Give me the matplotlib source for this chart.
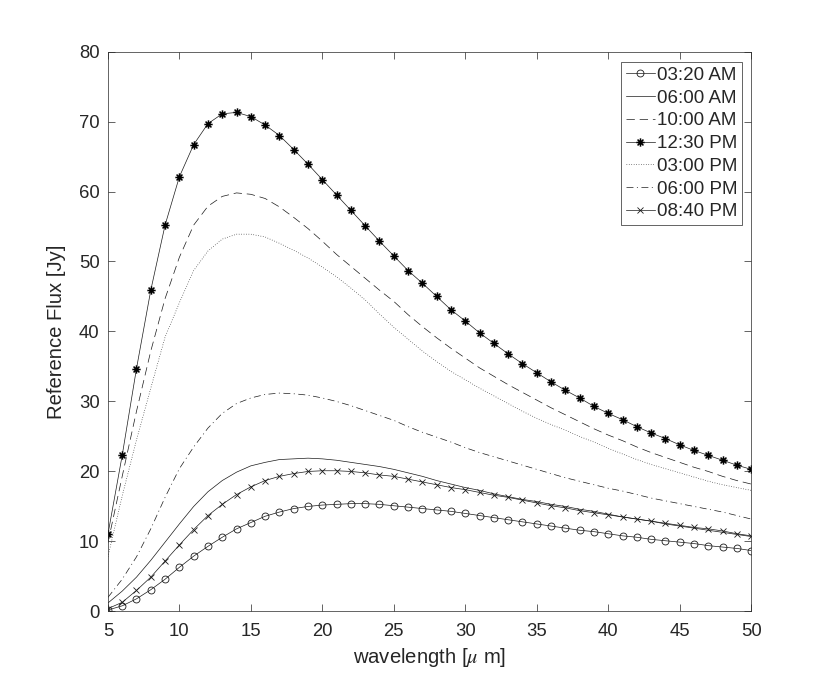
import numpy as np
import matplotlib
matplotlib.use("Agg")
import matplotlib.pyplot as plt
from matplotlib.path import Path

plt.rcParams['font.family'] = ['Liberation Sans', 'DejaVu Sans']
plt.rcParams['mathtext.fontset'] = 'stix'

wavelength = list(range(5, 51))

flux_0320am = [0.2, 0.8, 1.8, 3.1, 4.6, 6.3, 7.9, 9.3, 10.6, 11.8, 12.7, 13.6, 14.2, 14.7, 15.0,
               15.2, 15.3, 15.4, 15.4, 15.3, 15.1, 14.9, 14.7, 14.5, 14.3, 14.0, 13.7, 13.4, 13.1,
               12.8, 12.5, 12.2, 11.9, 11.6, 11.4, 11.1, 10.8, 10.6, 10.3, 10.1, 9.9, 9.7, 9.4,
               9.2, 9.0, 8.7]
flux_0600am = [1.2, 2.9, 4.9, 7.3, 9.9, 12.5, 15.0, 17.1, 18.7, 19.9, 20.8, 21.3, 21.7, 21.8, 21.9,
               21.8, 21.6, 21.3, 21.0, 20.7, 20.3, 19.8, 19.3, 18.7, 18.2, 17.7, 17.3, 16.8, 16.4,
               16.0, 15.7, 15.3, 15.0, 14.6, 14.3, 13.9, 13.5, 13.2, 12.9, 12.5, 12.2, 11.9, 11.6,
               11.3, 11.0, 10.7]
flux_1000am = [9.8, 19.3, 28.6, 37.2, 44.7, 50.6, 55.2, 57.9, 59.3, 59.8, 59.6, 59.0, 57.8, 56.3,
               54.7, 52.9, 51.0, 49.3, 47.6, 45.9, 44.3, 42.4, 40.7, 39.1, 37.6, 36.2, 34.8, 33.6,
               32.4, 31.3, 30.2, 29.1, 28.1, 27.1, 26.1, 25.2, 24.4, 23.5, 22.7, 22.0, 21.3, 20.6,
               20.0, 19.3, 18.7, 18.2]
flux_1230pm = [11.0, 22.3, 34.7, 45.9, 55.2, 62.1, 66.7, 69.7, 71.1, 71.3, 70.7, 69.5, 68.0, 66.0,
               63.9, 61.7, 59.5, 57.3, 55.1, 52.9, 50.8, 48.7, 46.9, 45.0, 43.1, 41.5, 39.8, 38.3,
               36.8, 35.4, 34.1, 32.8, 31.6, 30.5, 29.3, 28.3, 27.4, 26.4, 25.5, 24.7, 23.8, 23.0,
               22.3, 21.6, 20.9, 20.3]
flux_0300pm = [7.8, 16.5, 24.5, 31.9, 39.2, 44.1, 48.7, 51.5, 53.2, 53.9, 53.9, 53.5, 52.6, 51.6,
               50.5, 49.2, 47.8, 46.2, 44.5, 42.5, 40.6, 38.9, 37.2, 35.7, 34.3, 33.1, 31.9, 30.8,
               29.7, 28.6, 27.6, 26.7, 25.9, 25.0, 24.2, 23.3, 22.5, 21.7, 21.0, 20.4, 19.8, 19.2,
               18.6, 18.1, 17.7, 17.3]
flux_0600pm = [2.0, 4.6, 7.8, 11.8, 16.3, 20.4, 23.5, 26.2, 28.3, 29.7, 30.5, 31.0, 31.2, 31.1,
               30.9, 30.5, 30.0, 29.4, 28.7, 28.0, 27.3, 26.4, 25.6, 24.9, 24.2, 23.4, 22.7, 22.1,
               21.5, 20.9, 20.3, 19.7, 19.1, 18.6, 18.1, 17.6, 17.2, 16.7, 16.2, 15.8, 15.4, 15.0,
               14.6, 14.2, 13.7, 13.2]
flux_0840pm = [0.4, 1.3, 3.0, 4.9, 7.2, 9.5, 11.7, 13.7, 15.3, 16.7, 17.8, 18.7, 19.3, 19.7, 20.0,
               20.1, 20.1, 20.0, 19.8, 19.5, 19.3, 18.9, 18.5, 18.1, 17.7, 17.4, 17.0, 16.6, 16.3,
               15.9, 15.5, 15.1, 14.8, 14.4, 14.1, 13.8, 13.5, 13.2, 12.9, 12.6, 12.3, 12.0, 11.8,
               11.5, 11.1, 10.8]

labels = ['03:20 AM', '06:00 AM', '10:00 AM', '12:30 PM', '03:00 PM', '06:00 PM', '08:40 PM']
xticks = [5, 10, 15, 20, 25, 30, 35, 40, 45, 50]
yticks = [0, 10, 20, 30, 40, 50, 60, 70, 80]

# MATLAB-like 8-armed asterisk
d = 0.7071
ast_verts = [(-1, 0), (1, 0), (0, -1), (0, 1), (-d, -d), (d, d), (-d, d), (d, -d)]
ast_codes = [Path.MOVETO, Path.LINETO] * 4
asterisk = Path(ast_verts, ast_codes)

axc = '#262626'
fig = plt.figure(figsize=(8.30, 6.87), dpi=100)
ax = fig.add_axes([0.13, 0.11, 0.775, 0.815])

lw = 0.5
col = '#1a1a1a'
ax.plot(wavelength, flux_0320am, color=col, lw=lw, marker='o', ms=5, mfc='none', mec=col, mew=0.6, label=labels[0])
ax.plot(wavelength, flux_0600am, color=col, lw=lw, ls='-', label=labels[1])
ax.plot(wavelength, flux_1000am, color=col, lw=lw, ls=(0, (12, 7)), label=labels[2])
ax.plot(wavelength, flux_1230pm, color=col, lw=lw, marker=asterisk, ms=6, mfc='none', mec='black', mew=1.1, label=labels[3])
ax.plot(wavelength, flux_0300pm, color=col, lw=lw, ls=(0, (1, 2.5)), label=labels[4])
ax.plot(wavelength, flux_0600pm, color=col, lw=lw, ls=(0, (10, 5, 1.5, 5)), label=labels[5])
ax.plot(wavelength, flux_0840pm, color=col, lw=lw, marker='x', ms=5, mec=col, mew=0.6, label=labels[6])

ax.set_xlim(5, 50)
ax.set_ylim(0, 80)
ax.set_xticks(xticks)
ax.set_yticks(yticks)
ax.tick_params(direction='in', top=True, right=True, length=4.7, width=0.5, color=axc,
               labelsize=13.3, labelcolor=axc)
ax.tick_params(axis='x', pad=8)
ax.tick_params(axis='y', pad=6)
for s in ax.spines.values():
    s.set_color(axc)
    s.set_linewidth(0.5)

ax.set_xlabel(r'wavelength [$\mu$ m]', fontsize=14.6, color=axc, labelpad=5)
ax.set_ylabel('Reference Flux [Jy]', fontsize=14.6, color=axc, labelpad=9)

leg = ax.legend(loc='upper right', bbox_to_anchor=(742 / 830, 1 - 62 / 687),
                bbox_transform=fig.transFigure, borderaxespad=0, fontsize=13.5,
                frameon=True, fancybox=False, edgecolor=axc, framealpha=1,
                handlelength=1.55, handletextpad=0.1, labelspacing=0.3, borderpad=0.25,
                numpoints=1)
leg.get_frame().set_linewidth(0.5)
for t in leg.get_texts():
    t.set_color(axc)

fig.savefig('out.png', dpi=100)
